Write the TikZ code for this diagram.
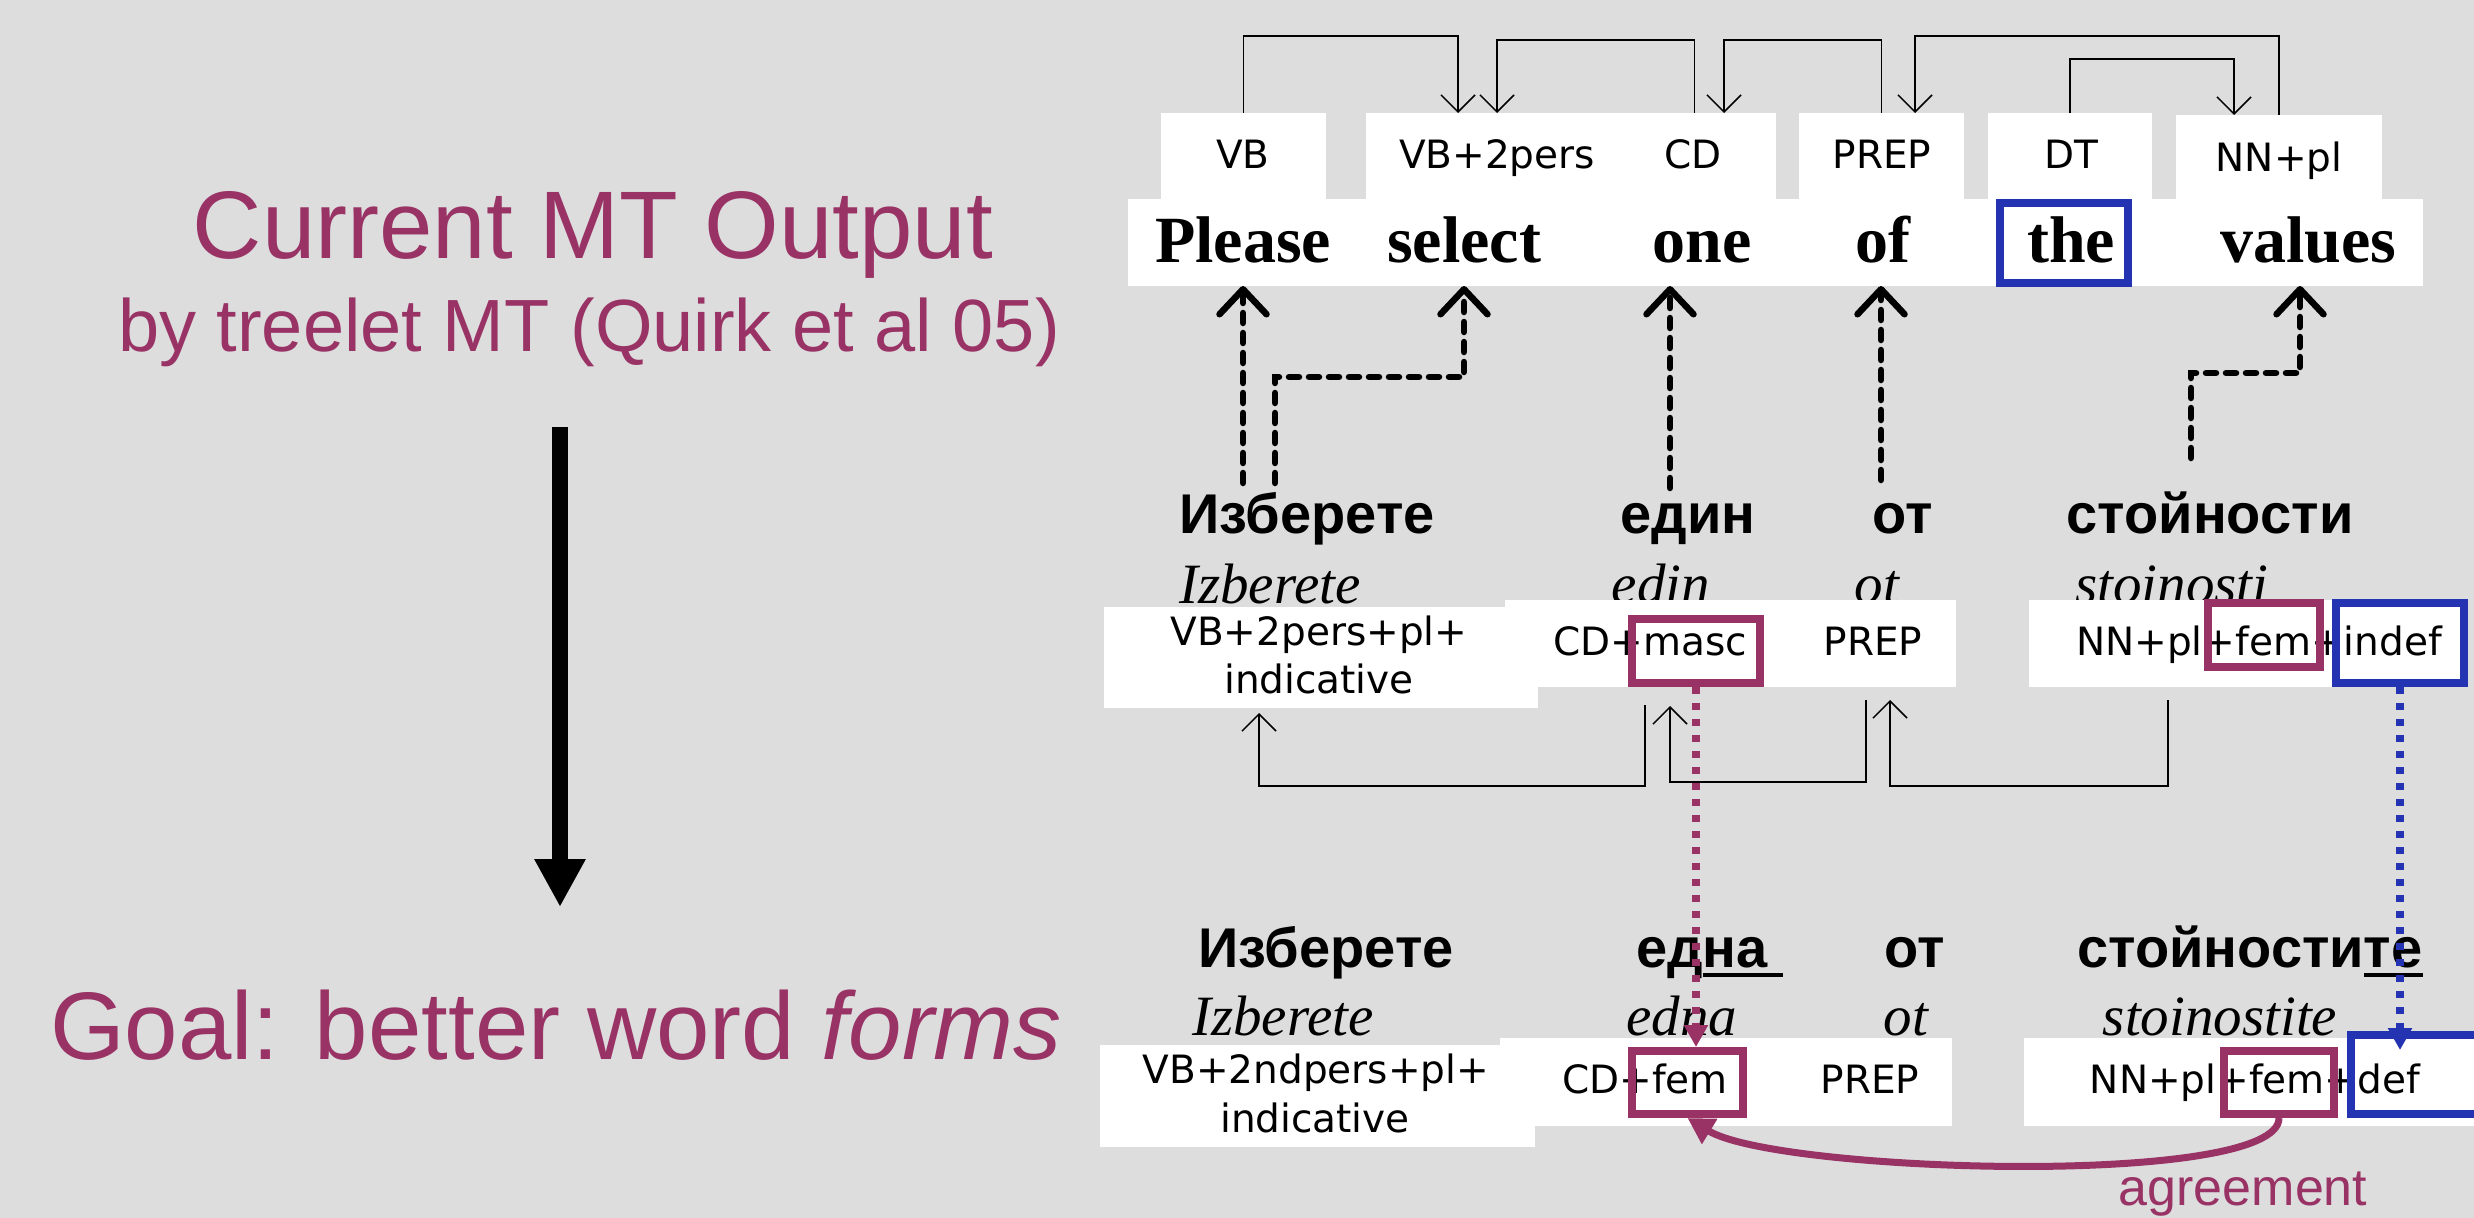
\documentclass[tikz,border=0pt]{standalone}
\usepackage{fontspec}
\setmainfont{Liberation Serif}
\newfontfamily\tagf{DejaVu Sans}
\newfontfamily\arialf{Liberation Sans}
\usetikzlibrary{arrows.meta,calc}
\definecolor{bgc}{HTML}{DDDDDD}
\definecolor{plum}{RGB}{153,51,102}
\definecolor{dblue}{RGB}{36,51,178}
\newcommand{\myul}[1]{\setbox0\hbox{#1}\rlap{\rule[-10pt]{\wd0}{4pt}}\box0}
\begin{document}
\begin{tikzpicture}[x=1pt,y=-1pt,
  wbox/.style={fill=white, draw=none, inner sep=0pt, outer sep=0pt},
  tagt/.style={font=\tagf\fontsize{39}{44}\selectfont, inner sep=0pt, anchor=base},
  engw/.style={font=\bfseries\fontsize{66}{70}\selectfont, inner sep=0pt, anchor=base},
  bgw/.style={font=\arialf\bfseries\fontsize{56}{60}\selectfont, inner sep=0pt, anchor=base},
  itw/.style={font=\itshape\fontsize{57}{60}\selectfont, inner sep=0pt, anchor=base},
  pbox/.style={draw=plum, line width=8pt, inner sep=0pt, outer sep=4pt},
  bbox/.style={draw=dblue, line width=8pt, inner sep=0pt, outer sep=4pt},
  dep/.style={line width=1.5pt, -{Straight Barb[width=34pt,length=17pt]}},
  aln/.style={line width=6.5pt, dash pattern=on 10pt off 10pt, line cap=round, -{Straight Barb[round,width=47pt,length=25pt]}},
  pdash/.style={draw=plum, line width=8pt, dash pattern=on 7pt off 9pt, -{Triangle[width=23pt,length=22pt]}},
  bdash/.style={draw=dblue, line width=8pt, dash pattern=on 7pt off 9pt, -{Triangle[width=23pt,length=22pt]}},
  agr/.style={draw=plum, line width=7pt, -{Triangle[width=28pt,length=26pt]}},
  ttl/.style={text=plum, inner sep=0pt, anchor=base}
]
\fill[bgc] (0,0) rectangle (2474,1218);
\useasboundingbox (0,0) rectangle (2474,1218);

% left side
\node[ttl, font=\arialf\fontsize{96}{100}\selectfont] (title) at (593,258) {Current MT Output};
\node[ttl, font=\arialf\fontsize{74}{80}\selectfont] (subt) at (589,351) {by treelet MT (Quirk et al 05)};
\node[ttl, font=\arialf\fontsize{96}{100}\selectfont] (goal) at (556,1059) {Goal: better word \textit{forms}};
\coordinate (arrtop) at (560,427);
\coordinate (arrbot) at (560,907);
\draw[line width=16pt, -{Triangle[width=48pt,length=48pt]}] (arrtop) -- (arrbot);

% top English tag boxes
\node[wbox, minimum width=165pt, minimum height=86pt] (b1) at (1243.5,156) {};
\node[wbox, minimum width=247pt, minimum height=86pt] (b2) at (1489.5,156) {};
\node[wbox, minimum width=163pt, minimum height=86pt] (b3) at (1694.5,156) {};
\node[wbox, minimum width=165pt, minimum height=86pt] (b4) at (1881.5,156) {};
\node[wbox, minimum width=164pt, minimum height=86pt] (b5) at (2070,156) {};
\node[wbox, minimum width=206pt, minimum height=84pt] (b6) at (2279,157) {};
\node[wbox, minimum width=1295pt, minimum height=87pt] (wb) at (1775.5,242.5) {};

\node[tagt] (g1) at (1243,168) {VB};
\node[tagt] (g2) at (1497,168) {VB+2pers};
\node[tagt] (g3) at (1693,168) {CD};
\node[tagt] (g4) at (1882,168) {PREP};
\node[tagt] (g5) at (2071,168) {DT};
\node[tagt] (g6) at (2279,171) {NN+pl};

\node[engw] (w1) at (1243,262) {Please};
\node[engw] (w2) at (1464,262) {select};
\node[engw] (w3) at (1702,262) {one};
\node[engw] (w4) at (1883,262) {of};
\node[engw] (w5) at (2071,262) {the};
\node[engw] (w6) at (2308,262) {values};
\node[bbox, minimum width=128pt, minimum height=80pt] (theb) at (2064,243) {};

% top dependency arcs
\coordinate (ra) at (0,36);
\coordinate (rb) at (0,40);
\coordinate (rc) at (0,59);
\draw[dep] (b1.north) -- (b1.north |- ra) -| ([xshift=-31.5pt]b2.north);
\draw[dep] (b3.north) -- (b3.north |- rb) -| ([xshift=7.5pt]b2.north);
\draw[dep] (b4.north) -- (b4.north |- rb) -| ([xshift=29.5pt]b3.north);
\draw[dep] (b6.north) -- (b6.north |- ra) -| ([xshift=33.5pt]b4.north);
\draw[dep] (b5.north) -- (b5.north |- rc) -| ([xshift=-45pt]b6.north);

% Bulgarian row 1
\node[bgw, anchor=base west] (r1a) at (1179,533) {Изберете};
\node[bgw] (r1b) at (1688,533) {един};
\node[bgw] (r1c) at (1903,533) {от};
\node[bgw] (r1d) at (2210,533) {стойности};
\node[itw, anchor=base west] (i1a) at (1179,603) {Izberete};
\node[itw] (i1b) at (1661,603) {edin};
\node[itw] (i1c) at (1877,603) {ot};
\node[itw] (i1d) at (2172,603) {stoinosti};

% alignment arrows
\coordinate (s1) at (1243,483);
\coordinate (s2) at (1275,483);
\coordinate (s3) at (1670,488);
\coordinate (s4) at (1881,480);
\coordinate (s5) at (2191,458);
\draw[aln] (s1) -- (wb.south -| w1);
\draw[aln] (s2) |- ($(wb.south -| w2)+(0,91)$) -- (wb.south -| w2);
\draw[aln] (s3) -- (s3 |- wb.south);
\draw[aln] (s4) -- (s4 |- wb.south);
\draw[aln] (s5) |- ($(wb.south -| w6)+(-8,87)$) -- ($(wb.south -| w6)+(-8,0)$);

% row 2 boxes
\node[wbox, minimum width=451pt, minimum height=87pt] (B2) at (1730.5,643.5) {};
\node[wbox, minimum width=434pt, minimum height=101pt] (A2) at (1321,657.5) {};
\node[wbox, minimum width=439pt, minimum height=87pt] (C2) at (2248.5,643.5) {};
\node[tagt] (t2a) at (1319,645) {VB+2pers+pl+};
\node[tagt] (t2e) at (1319,693) {indicative};
\node[tagt] (t2b) at (1650,655) {CD+masc};
\node[tagt] (t2c) at (1873,655) {PREP};
\node[tagt] (t2d) at (2259,655) {NN+pl+fem+indef};

% row 2 dependency arcs
\coordinate (q1) at (1645,705);
\coordinate (q2) at (1866,700);
\coordinate (q3) at (2168,700);
\coordinate (l1) at (0,786);
\coordinate (l2) at (0,782);
\draw[dep] (q1) -- (q1 |- l1) -| ([xshift=-62pt,yshift=-5pt]A2.south);
\draw[dep] (q2) -- (q2 |- l2) -| ([xshift=-60.5pt,yshift=-19pt]B2.south);
\draw[dep] (q3) -- (q3 |- l1) -| ([xshift=159.5pt,yshift=-13pt]B2.south);

% row 3
\node[bgw] (r3a) at (1326,967) {Изберете};
\node[bgw, anchor=base west] (r3b) at (1636,967) {ед\myul{на\ }};
\node[bgw] (r3c) at (1915,967) {от};
\node[bgw, anchor=base west] (r3d) at (2077,967) {стойности\myul{те}};
\node[itw, anchor=base west] (i3a) at (1192,1035) {Izberete};
\node[itw] (i3b) at (1682,1035) {edna};
\node[itw] (i3c) at (1906,1035) {ot};
\node[itw] (i3d) at (2220,1035) {stoinostite};

\node[wbox, minimum width=452pt, minimum height=88pt] (B3) at (1726,1082) {};
\node[wbox, minimum width=435pt, minimum height=102pt] (A3) at (1317.5,1096) {};
\node[wbox, minimum width=472pt, minimum height=88pt] (C3) at (2260,1082) {};
\node[tagt] (t3a) at (1316,1083) {VB+2ndpers+pl+};
\node[tagt] (t3e) at (1315,1132) {indicative};
\node[tagt] (t3b) at (1645,1093) {CD+fem};
\node[tagt] (t3c) at (1870,1093) {PREP};
\node[tagt] (t3d) at (2255,1093) {NN+pl+fem+def};

% coloured boxes
\node[pbox, minimum width=128pt, minimum height=64pt] (m2) at (1696,651) {};
\node[pbox, minimum width=112pt, minimum height=64pt] (f2) at (2264,635) {};
\node[bbox, minimum width=128pt, minimum height=80pt] (d2) at (2400,643) {};
\node[pbox, minimum width=111pt, minimum height=63pt] (f3a) at (1687.5,1082.5) {};
\node[pbox, minimum width=110pt, minimum height=63pt] (f3b) at (2279,1082.5) {};
\node[bbox, minimum width=149pt, minimum height=79pt] (d3) at (2425.5,1074.5) {};

% morphology transfer arrows
\draw[pdash] (m2.south) -- (m2.south |- f3a.north);
\draw[bdash] (d2.south) -- ($(d2.south |- d3.north)+(0,19)$);

% agreement
\draw[agr] (f3b.south) .. controls +(0,70) and +(90,55) .. (f3a.south);
\node[ttl, font=\arialf\fontsize{52}{56}\selectfont] (agt) at (2243,1205) {agreement};
\end{tikzpicture}
\end{document}
